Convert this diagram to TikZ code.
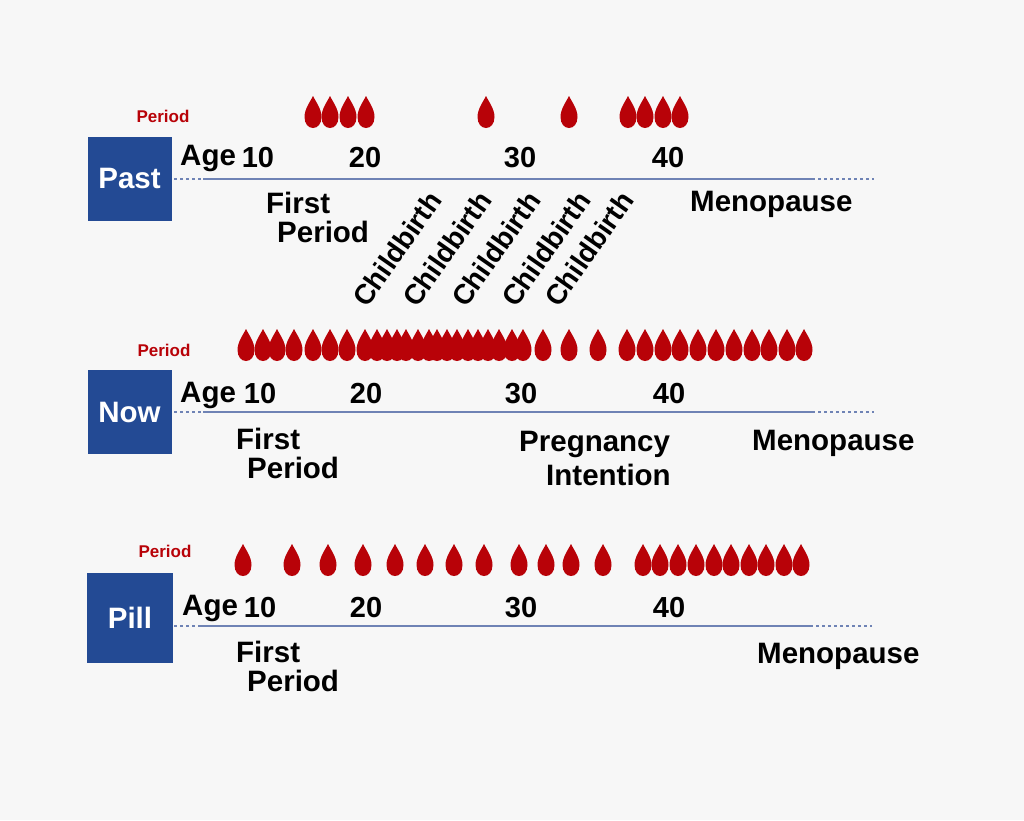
\documentclass[tikz,border=0pt]{standalone}
\usepackage{fontspec}
\setmainfont{Liberation Sans}
\definecolor{bg}{HTML}{F7F7F7}
\definecolor{boxblue}{HTML}{234A94}
\definecolor{linblue}{HTML}{6F83B5}
\definecolor{blood}{HTML}{B80208}
\newcommand{\fs}[1]{\fontsize{#1}{#1}\selectfont}
\newcommand{\dropsat}[2]{\foreach \dx in {#2}{\path[fill=blood] (\dx,#1-16) .. controls (\dx+3,#1-10) and (\dx+8.5,#1-3) .. (\dx+8.5,#1+5) .. controls (\dx+8.5,#1+12) and (\dx+4.5,#1+16) .. (\dx,#1+16) .. controls (\dx-4.5,#1+16) and (\dx-8.5,#1+12) .. (\dx-8.5,#1+5) .. controls (\dx-8.5,#1-3) and (\dx-3,#1-10) .. (\dx,#1-16) -- cycle;}}
\tikzset{
  x=1pt,y=-1pt,
  eraboxx/.style={fill=boxblue,minimum width=84pt,minimum height=84pt,inner sep=0pt,text=white,font=\bfseries\fs{29.5}},
  lbl/.style={inner sep=0pt,font=\bfseries\fs{29.5},text=black,anchor=base west},
  num/.style={inner sep=0pt,font=\bfseries\fs{29},text=black,anchor=base},
  per/.style={inner sep=0pt,font=\bfseries\fs{17},text=blood,anchor=base},
  baseline/.style={draw=linblue,line width=1.4pt},
  dots/.style={draw=linblue,line width=1.4pt,dash pattern=on 3pt off 3pt},
  birth/.style={inner sep=0pt,font=\bfseries\fs{28},text=black,rotate=55,anchor=center}
}
\begin{document}
\begin{tikzpicture}
\path[fill=bg] (0,0) rectangle (1024,820);
\useasboundingbox (0,0) rectangle (1024,820);
% Past
\node[eraboxx] (past) at (129.5,178.5) {Past};
\node[per] (pastper) at (163,122) {Period};
\dropsat{112}{313,330,348,366,486,569,628,645,663,680}
\node[lbl] (pastage) at (180,165) {Age};
\node[num] (p10) at (258,167) {10};
\node[num] (p20) at (365,167) {20};
\node[num] (p30) at (520,167) {30};
\node[num] (p40) at (668,167) {40};
\coordinate (pa) at (174,179);
\coordinate (pb) at (203,179);
\coordinate (pc) at (812,179);
\coordinate (pd) at (874,179);
\draw[dots] (pa) -- (pb);
\draw[baseline] (pb) -- (pc);
\draw[dots] (pc) -- (pd);
\node[lbl] (pfirst) at (266,213) {First};
\node[lbl] (pperiod) at (277,242) {Period};
\node[lbl] (pmeno) at (690,211) {Menopause};
\node[birth] (b1) at (397,249) {Childbirth};
\node[birth] (b2) at (447,249) {Childbirth};
\node[birth] (b3) at (496,249) {Childbirth};
\node[birth] (b4) at (546,249) {Childbirth};
\node[birth] (b5) at (589,249) {Childbirth};
% Now
\node[eraboxx] (now) at (129.5,412) {Now};
\node[per] (nowper) at (164,356) {Period};
\dropsat{345}{246,263,277,294,313,330,347,365,377,387,397,406,418,429,437,447,457,468,478,488,499,512,523,543,569,598,627,645,663,680,698,716,734,752,769,787,804}
\node[lbl] (nowage) at (180,402) {Age};
\node[num] (n10) at (260,403) {10};
\node[num] (n20) at (366,403) {20};
\node[num] (n30) at (521,403) {30};
\node[num] (n40) at (669,403) {40};
\coordinate (na) at (174,412);
\coordinate (nb) at (203,412);
\coordinate (nc) at (812,412);
\coordinate (nd) at (874,412);
\draw[dots] (na) -- (nb);
\draw[baseline] (nb) -- (nc);
\draw[dots] (nc) -- (nd);
\node[lbl] (nfirst) at (236,449) {First};
\node[lbl] (nperiod) at (247,478) {Period};
\node[lbl] (npreg) at (519,451) {Pregnancy};
\node[lbl] (nint) at (546,485) {Intention};
\node[lbl] (nmeno) at (752,450) {Menopause};
% Pill
\node[eraboxx,minimum width=86pt,minimum height=90pt] (pill) at (130,618) {Pill};
\node[per] (pillper) at (165,557) {Period};
\dropsat{560}{243,292,328,363,395,425,454,484,519,546,571,603,643,660,678,696,714,731,749,766,784,801}
\node[lbl] (pillage) at (182,615) {Age};
\node[num] (l10) at (260,617) {10};
\node[num] (l20) at (366,617) {20};
\node[num] (l30) at (521,617) {30};
\node[num] (l40) at (669,617) {40};
\coordinate (la) at (174,626);
\coordinate (lb) at (200,626);
\coordinate (lc) at (810,626);
\coordinate (ld) at (872,626);
\draw[dots] (la) -- (lb);
\draw[baseline] (lb) -- (lc);
\draw[dots] (lc) -- (ld);
\node[lbl] (lfirst) at (236,662) {First};
\node[lbl] (lperiod) at (247,691) {Period};
\node[lbl] (lmeno) at (757,663) {Menopause};
\end{tikzpicture}
\end{document}
